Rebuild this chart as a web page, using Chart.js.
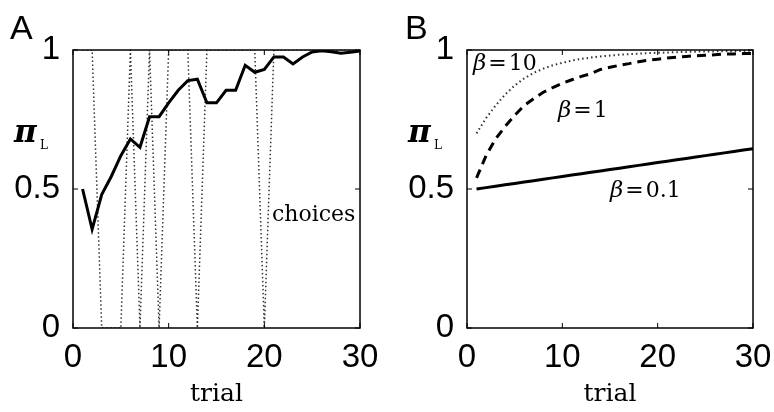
<!DOCTYPE html>
<html>
<head>
<meta charset="utf-8">
<script src="https://cdn.jsdelivr.net/npm/chart.js@4.4.1/dist/chart.umd.min.js"></script>
<style>
    html, body { margin: 0; padding: 0; background: #fff; }
    #wrap { position: relative; width: 774px; height: 412px; }
    canvas { position: absolute; top: 0; }
    #canvasA { left: 0; }
    #canvasB { left: 387px; }
</style>
</head>
<body>
<div id="wrap">
    <canvas id="canvasA" width="387" height="412"></canvas>
    <canvas id="canvasB" width="387" height="412"></canvas>
</div>
<script>
    // trials and values
    var trials = [1, 2, 3, 4, 5, 6, 7, 8, 9, 10, 11, 12, 13, 14, 15, 16, 17, 18, 19, 20, 21, 22, 23, 24, 25, 26, 27, 28, 29, 30];

    // panel A: choice probability and actual choices (1 = L, 0 = R)
    var piL = [0.50, 0.355, 0.48, 0.545, 0.62, 0.68, 0.65, 0.76, 0.76, 0.81, 0.855, 0.89, 0.895, 0.81, 0.81, 0.855, 0.855, 0.945, 0.92, 0.93, 0.975, 0.975, 0.95, 0.975, 0.993, 0.997, 0.994, 0.988, 0.992, 0.996];
    var choices = [1, 1, 0, 0, 0, 1, 0, 1, 0, 1, 1, 1, 0, 1, 1, 1, 1, 1, 1, 0, 1, 1, 1, 1, 1, 1, 1, 1, 1, 1];

    // panel B: pi_L for three inverse temperatures
    var beta01 = [0.500, 0.505, 0.510, 0.515, 0.520, 0.525, 0.530, 0.535, 0.540, 0.545, 0.550, 0.555, 0.560, 0.565, 0.570, 0.575, 0.580, 0.585, 0.590, 0.595, 0.600, 0.605, 0.610, 0.615, 0.620, 0.625, 0.630, 0.635, 0.640, 0.645];
    var beta1 = [0.54, 0.62, 0.68, 0.725, 0.765, 0.80, 0.825, 0.848, 0.865, 0.88, 0.893, 0.905, 0.915, 0.93, 0.938, 0.945, 0.951, 0.958, 0.963, 0.967, 0.971, 0.974, 0.977, 0.979, 0.981, 0.983, 0.985, 0.986, 0.987, 0.988];
    var beta10 = [0.70, 0.755, 0.80, 0.84, 0.872, 0.898, 0.918, 0.933, 0.945, 0.954, 0.962, 0.968, 0.973, 0.977, 0.98, 0.983, 0.985, 0.987, 0.989, 0.99, 0.991, 0.992, 0.993, 0.994, 0.995, 0.995, 0.996, 0.996, 0.997, 0.997];

    var xTicks = [0, 10, 20, 30];
    var yTicks = [0, 0.5, 1];
    var xTitle = 'trial';

    var SANS = '"Liberation Sans", Arial, sans-serif';
    var SERIF = '"DejaVu Serif", serif';

    function pts(ys) {
        return trials.map(function (t, i) { return { x: t, y: ys[i] }; });
    }

    function makeScales(yWidth) {
        return {
            x: {
                type: 'linear', min: 0, max: 30,
                grid: { display: false }, border: { display: false },
                afterBuildTicks: function (s) { s.ticks = xTicks.map(function (v) { return { value: v }; }); },
                ticks: { font: { family: SANS, size: 33 }, color: '#000', padding: 2, maxRotation: 0, autoSkip: false },
                afterFit: function (s) { s.height = 84; }
            },
            y: {
                type: 'linear', min: 0, max: 1,
                grid: { display: false }, border: { display: false },
                afterBuildTicks: function (s) { s.ticks = yTicks.map(function (v) { return { value: v }; }); },
                ticks: {
                    font: { family: SANS, size: 33 }, color: '#000', padding: 5, autoSkip: false,
                    callback: function (v) { return String(v); }
                },
                afterFit: function (s) { s.width = yWidth; }
            }
        };
    }

    // box round the plot with inward ticks on all four sides
    var framePlugin = {
        id: 'frame',
        afterDatasetsDraw: function (chart) {
            var ctx = chart.ctx, a = chart.chartArea, sx = chart.scales.x, sy = chart.scales.y;
            ctx.save();
            ctx.strokeStyle = '#000';
            ctx.lineWidth = 1.5;
            ctx.strokeRect(a.left, a.top, a.right - a.left, a.bottom - a.top);
            ctx.lineWidth = 1;
            ctx.beginPath();
            xTicks.forEach(function (v) {
                var px = sx.getPixelForValue(v);
                ctx.moveTo(px, a.bottom); ctx.lineTo(px, a.bottom - 5);
                ctx.moveTo(px, a.top); ctx.lineTo(px, a.top + 5);
            });
            yTicks.forEach(function (v) {
                var py = sy.getPixelForValue(v);
                ctx.moveTo(a.left, py); ctx.lineTo(a.left + 5, py);
                ctx.moveTo(a.right, py); ctx.lineTo(a.right - 5, py);
            });
            ctx.stroke();
            ctx.restore();
        }
    };

    function drawCommon(ctx, a, letter, letterX) {
        ctx.fillStyle = '#000';
        ctx.textBaseline = 'alphabetic';
        ctx.textAlign = 'left';
        ctx.font = '34px ' + SANS;
        ctx.fillText(letter, letterX, 39);
        // y label pi with subscript L
        ctx.font = 'bold italic 31px ' + SERIF;
        ctx.fillText('π', a.left - 59, 142);
        ctx.font = '12px ' + SERIF;
        ctx.fillText('L', a.left - 33, 149);
        // x label
        ctx.textAlign = 'center';
        ctx.font = '25px ' + SERIF;
        ctx.fillText(xTitle, (a.left + a.right) / 2, 401);
    }

    function drawBeta(ctx, x, y, num) {
        ctx.textAlign = 'left';
        ctx.font = 'italic 23px ' + SERIF;
        ctx.fillText('β', x, y);
        var w = ctx.measureText('β').width;
        ctx.font = '22px ' + SERIF;
        ctx.fillText('=', x + w + 2, y);
        var we = ctx.measureText('=').width;
        ctx.fillText(num, x + w + we + 4, y);
    }

    var textA = {
        id: 'textA',
        afterDraw: function (chart) {
            var ctx = chart.ctx, a = chart.chartArea;
            ctx.save();
            drawCommon(ctx, a, 'A', 10);
            ctx.textAlign = 'left';
            ctx.font = '22px ' + SERIF;
            ctx.fillText('choices', 272, 221);
            ctx.restore();
        }
    };

    var textB = {
        id: 'textB',
        afterDraw: function (chart) {
            var ctx = chart.ctx, a = chart.chartArea;
            ctx.save();
            drawCommon(ctx, a, 'B', 18);
            drawBeta(ctx, 86, 70, '10');
            drawBeta(ctx, 171, 117, '1');
            drawBeta(ctx, 223, 197, '0.1');
            ctx.restore();
        }
    };

    var chartA = new Chart(document.getElementById('canvasA').getContext('2d'), {
        type: 'line',
        data: {
            datasets: [
                { label: 'pi_L', data: pts(piL), borderColor: '#000', borderWidth: 3, pointRadius: 0, tension: 0, order: 1 },
                { label: 'choices', data: pts(choices), borderColor: '#333', borderWidth: 1.5, borderDash: [1.5, 2.5], pointRadius: 0, tension: 0, order: 2 }
            ]
        },
        options: {
            responsive: false,
            animation: false,
            layout: { padding: { left: 0, top: 50, right: 27, bottom: 0 } },
            plugins: { legend: { display: false }, tooltip: { enabled: false } },
            scales: makeScales(73)
        },
        plugins: [framePlugin, textA]
    });

    var chartB = new Chart(document.getElementById('canvasB').getContext('2d'), {
        type: 'line',
        data: {
            datasets: [
                { label: 'beta=0.1', data: pts(beta01), borderColor: '#000', borderWidth: 3, pointRadius: 0, tension: 0 },
                { label: 'beta=1', data: pts(beta1), borderColor: '#000', borderWidth: 3, borderDash: [9, 6], pointRadius: 0, tension: 0 },
                { label: 'beta=10', data: pts(beta10), borderColor: '#333', borderWidth: 2, borderDash: [1.5, 3], pointRadius: 0, tension: 0 }
            ]
        },
        options: {
            responsive: false,
            animation: false,
            layout: { padding: { left: 0, top: 50, right: 21, bottom: 0 } },
            plugins: { legend: { display: false }, tooltip: { enabled: false } },
            scales: makeScales(80)
        },
        plugins: [framePlugin, textB]
    });
</script>
</body>
</html>
